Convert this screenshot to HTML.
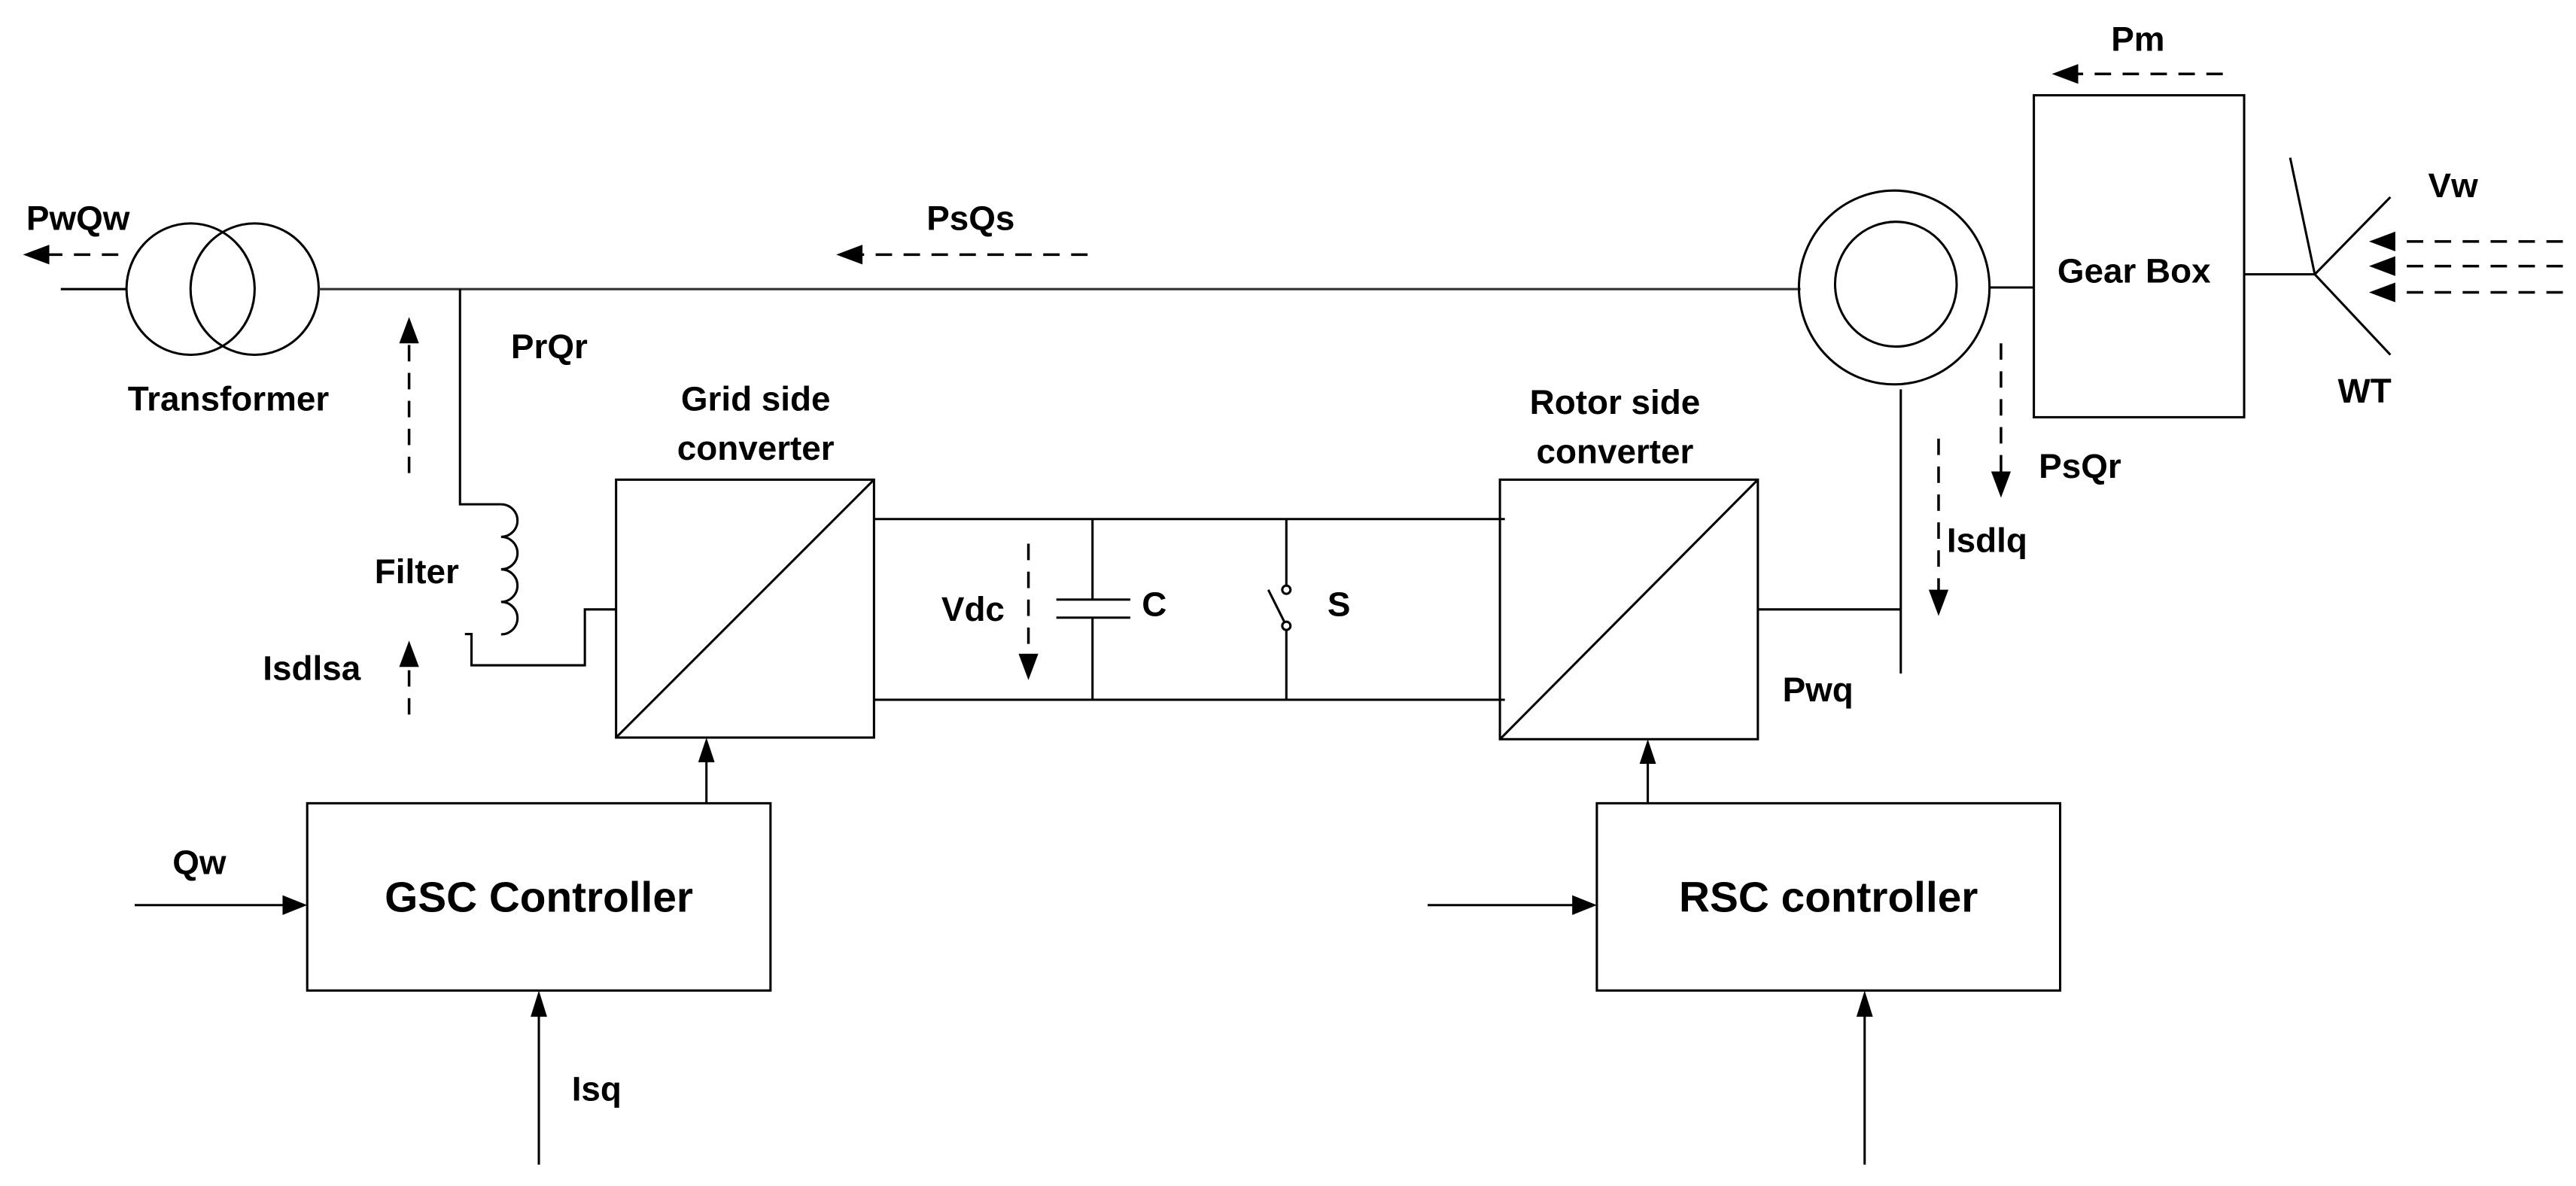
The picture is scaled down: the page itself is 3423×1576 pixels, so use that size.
<!DOCTYPE html>
<html><head><meta charset="utf-8"><style>
html,body{margin:0;padding:0;background:#fff;}
svg{display:block;}
text{font-family:"Liberation Sans",Arial,sans-serif;font-weight:bold;fill:#000;}
</style></head><body>
<svg width="3423" height="1576" viewBox="0 0 1568 722" preserveAspectRatio="none" xmlns="http://www.w3.org/2000/svg">
<g fill="none" stroke="#000" stroke-width="1.4">
<line x1="37" y1="176" x2="77" y2="176"/>
<ellipse cx="116" cy="176" rx="39" ry="40"/>
<ellipse cx="155" cy="176" rx="39" ry="40"/>
<line x1="194" y1="176" x2="1096" y2="176" stroke="#333"/>
<polyline points="280,176 280,307 305,307"/>
<path d="M305,307 a10,9.9 0 0 1 0,19.8 a10,9.9 0 0 1 0,19.8 a10,9.9 0 0 1 0,19.8 a10,9.9 0 0 1 0,19.8"/>
<polyline points="283,386 287,386 287,405 356,405 356,371 375,371"/>
<rect x="375" y="292" width="157" height="157"/>
<line x1="375" y1="449" x2="532" y2="292"/>
<line x1="532" y1="316" x2="916" y2="316"/>
<line x1="532" y1="426" x2="916" y2="426"/>
<line x1="665" y1="316" x2="665" y2="365"/>
<line x1="665" y1="376" x2="665" y2="426"/>
<line x1="643" y1="365" x2="688" y2="365"/>
<line x1="643" y1="376" x2="688" y2="376"/>
<line x1="783" y1="316" x2="783" y2="356"/>
<circle cx="783" cy="359" r="2.5"/>
<circle cx="783" cy="381" r="2.5"/>
<line x1="783" y1="384" x2="783" y2="426"/>
<line x1="772" y1="359" x2="782" y2="379"/>
<rect x="913" y="292" width="157" height="158"/>
<line x1="913" y1="450" x2="1070" y2="292"/>
<line x1="1070" y1="371" x2="1157" y2="371"/>
<line x1="1157" y1="237" x2="1157" y2="410"/>
<ellipse cx="1153" cy="175" rx="58" ry="59"/>
<ellipse cx="1154" cy="173" rx="37" ry="38"/>
<line x1="1211" y1="175" x2="1238" y2="175"/>
<rect x="1238" y="58" width="128" height="196"/>
<line x1="1366" y1="167" x2="1409" y2="167"/>
<line x1="1409" y1="167" x2="1394" y2="96"/>
<line x1="1409" y1="167" x2="1455" y2="120"/>
<line x1="1409" y1="167" x2="1455" y2="216"/>
<rect x="187" y="489" width="282" height="114"/>
<rect x="972" y="489" width="282" height="114"/>
<line x1="430" y1="489" x2="430" y2="460"/>
<line x1="1003" y1="489" x2="1003" y2="460"/>
<line x1="82" y1="551" x2="176" y2="551"/>
<line x1="869" y1="551" x2="961" y2="551"/>
<line x1="328" y1="709" x2="328" y2="616"/>
<line x1="1135" y1="709" x2="1135" y2="616"/>
</g>
<g fill="none" stroke="#000" stroke-width="1.6" stroke-dasharray="10,7">
<line x1="72" y1="155" x2="28" y2="155"/>
<line x1="662" y1="155" x2="523" y2="155"/>
<line x1="1353" y1="45" x2="1263" y2="45"/>
<line x1="1560" y1="147" x2="1456" y2="147"/>
<line x1="1560" y1="162" x2="1456" y2="162"/>
<line x1="1560" y1="178" x2="1456" y2="178"/>
<line x1="249" y1="288" x2="249" y2="207"/>
<line x1="249" y1="435" x2="249" y2="403"/>
<line x1="1218" y1="209" x2="1218" y2="290"/>
<line x1="1180" y1="267" x2="1180" y2="362"/>
<line x1="626" y1="331" x2="626" y2="401"/>
</g>
<g fill="#000" stroke="none">
<polygon points="14,155 30,149 30,161"/>
<polygon points="509,155 525,149 525,161"/>
<polygon points="1249,45 1265,39 1265,51"/>
<polygon points="1442,147 1458,141 1458,153"/>
<polygon points="1442,162 1458,156 1458,168"/>
<polygon points="1442,178 1458,172 1458,184"/>
<polygon points="249,193 243,209 255,209"/>
<polygon points="249,390 243,406 255,406"/>
<polygon points="1218,303 1212,287 1224,287"/>
<polygon points="1180,375 1174,359 1186,359"/>
<polygon points="626,414 620,398 632,398"/>
<polygon points="430,449 425,464 435,464"/>
<polygon points="1003,450 998,465 1008,465"/>
<polygon points="187,551 172,545 172,557"/>
<polygon points="972,551 957,545 957,557"/>
<polygon points="328,603 323,619 333,619"/>
<polygon points="1135,603 1130,619 1140,619"/>
</g>
<g font-size="21">
<text x="16" y="140">PwQw</text>
<text x="564" y="140">PsQs</text>
<text x="1285" y="31">Pm</text>
<text x="1478" y="120">Vw</text>
<text x="1423" y="245">WT</text>
<text x="1299" y="172" text-anchor="middle">Gear Box</text>
<text x="139" y="250" text-anchor="middle">Transformer</text>
<text x="311" y="218">PrQr</text>
<text x="460" y="250" text-anchor="middle">Grid side</text>
<text x="460" y="280" text-anchor="middle">converter</text>
<text x="983" y="252" text-anchor="middle">Rotor side</text>
<text x="983" y="282" text-anchor="middle">converter</text>
<text x="228" y="355">Filter</text>
<text x="160" y="414">Isdlsa</text>
<text x="573" y="378">Vdc</text>
<text x="695" y="375">C</text>
<text x="808" y="375">S</text>
<text x="1241" y="291">PsQr</text>
<text x="1185" y="336">Isdlq</text>
<text x="1085" y="427">Pwq</text>
<text x="105" y="532">Qw</text>
<text x="348" y="670">Isq</text>
</g>
<g font-size="26">
<text x="328" y="555" text-anchor="middle">GSC Controller</text>
<text x="1113" y="555" text-anchor="middle">RSC controller</text>
</g>
</svg>
</body></html>
